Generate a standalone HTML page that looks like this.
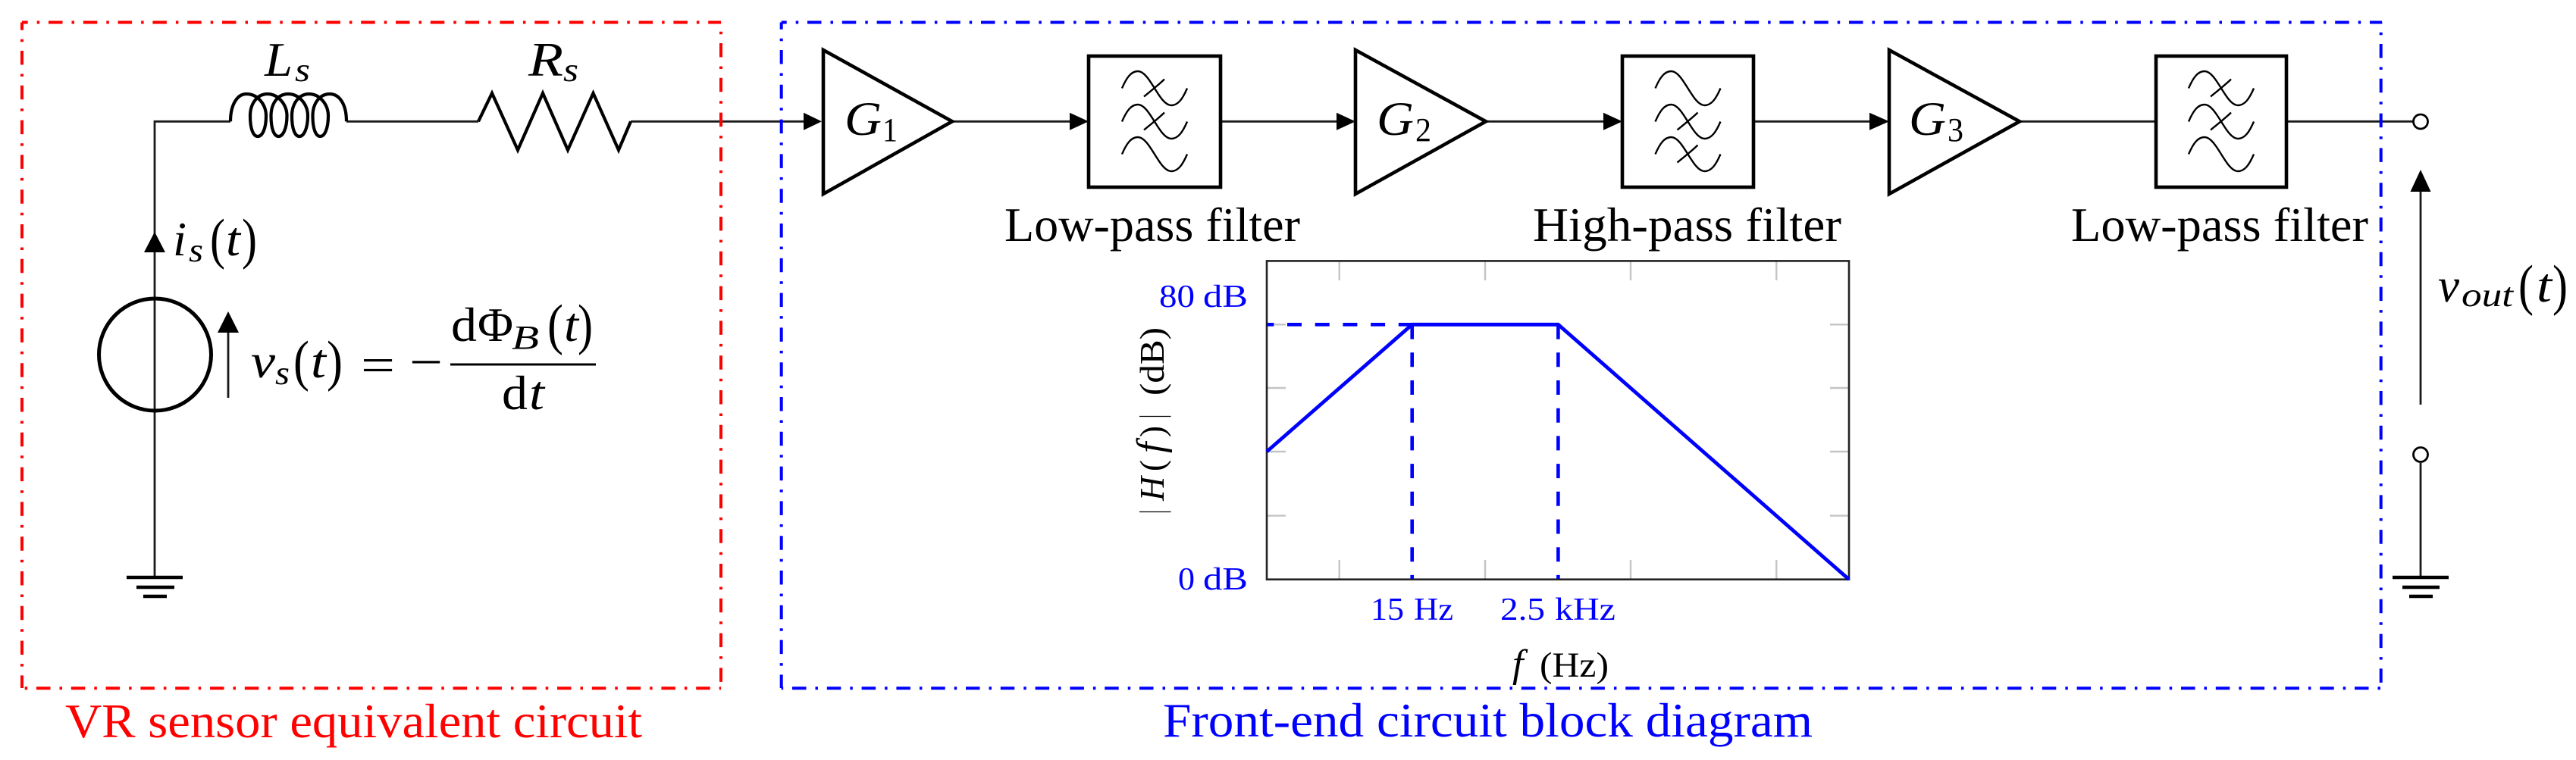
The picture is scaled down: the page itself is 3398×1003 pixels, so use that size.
<!DOCTYPE html>
<html><head><meta charset="utf-8"><title>VR sensor and front-end circuit</title>
<style>
html,body{margin:0;padding:0;background:#fff}
svg{display:block}
text{font-family:"Liberation Serif",serif;fill:#000}
.i{font-style:italic}
.m{font-size:64px}
.q{font-size:74px}
.s{font-size:44px}
.p{font-size:42px}
.b{fill:#00f}
.r{fill:#f00}
</style></head>
<body>
<svg xmlns="http://www.w3.org/2000/svg" width="3398" height="1003" viewBox="0 0 3398 1003">
<rect width="3398" height="1003" fill="#fff"/>
<defs>
<path id="w" d="M-43 0C-37 -14 -31 -22.5 -22 -22.5C-6 -22.5 6 22.5 22 22.5C31 22.5 37 14 43 0" fill="none" stroke="#000" stroke-width="2.4"/>
<path id="x" d="M13 -12C6 -5 -8 6 -14 11" fill="none" stroke="#000" stroke-width="2.4"/>
</defs>

<!-- wires -->
<g fill="none" stroke="#1a1a1a" stroke-width="2.8">
<path d="M304 160.3H204V762"/>
<path d="M457 160.3H631"/>
<path d="M832 160.3H1062"/>
<path d="M1256 160.3H1412"/>
<path d="M1610 160.3H1764"/>
<path d="M1960 160.3H2116"/>
<path d="M2313 160.3H2467"/>
<path d="M2664 160.3H2844"/>
<path d="M3016 160.3H3183"/>
<path d="M301 439V525"/>
<path d="M3193 253V534"/>
<path d="M3193 611V762"/>
</g>

<!-- inductor -->
<path fill="none" stroke="#000" stroke-width="4.2" d="M304 160.3C304 138 313 124 325 124C340 124 351 138 351 153C351 170 346 180 340 180C334 180 330 170 330 153C330 136 340 124 352.7 124C367 124 378.5 138 378.5 153C378.5 170 373 180 367.5 180C361.5 180 357.5 170 357.5 153C357.5 136 367 124 380 124C395 124 406 138 406 153C406 170 400.5 180 395 180C389 180 385 170 385 153C385 136 395 124 407.5 124C422 124 433 138 433 153C433 170 428 180 422.5 180C416.5 180 412.5 170 412.5 153C412.5 136 422 124 435 124C448 124 457 138 457 160.3"/>
<!-- resistor -->
<polyline fill="none" stroke="#000" stroke-width="4.2" stroke-linejoin="miter" points="631,160.3 649,123 683,198 716,123 749,198 782.5,123 816,198 832,160.3"/>

<!-- source -->
<circle cx="204.5" cy="468" r="74" fill="none" stroke="#000" stroke-width="5"/>

<!-- arrows -->
<g fill="#000">
<polygon points="204,306 190,333 218,333"/>
<polygon points="301,411 287,439 315,439"/>
<polygon points="3193,224 3179.5,253 3206.5,253"/>
<polygon points="1084,160.3 1060,148.8 1060,171.8"/>
<polygon points="1436,160.3 1411,148.8 1411,171.8"/>
<polygon points="1788,160.3 1763,148.8 1763,171.8"/>
<polygon points="2140,160.3 2115,148.8 2115,171.8"/>
<polygon points="2492,160.3 2466,148.8 2466,171.8"/>
</g>

<!-- grounds -->
<g stroke="#000" stroke-width="4.5" fill="none">
<path d="M167 762H241M180 775H230M189 787H220"/>
<path d="M3156 762H3230M3169 775H3218M3178 787H3209"/>
</g>

<!-- terminals -->
<g fill="#fff" stroke="#000" stroke-width="2.8">
<circle cx="3193" cy="160.5" r="9.5"/>
<circle cx="3193" cy="600" r="9.5"/>
</g>

<!-- amplifiers -->
<g fill="#fff" stroke="#000" stroke-width="4.6" stroke-linejoin="miter">
<polygon points="1086,66 1256,160.3 1086,256"/>
<polygon points="1788,66 1960,160.3 1788,256"/>
<polygon points="2492,66 2664,160.3 2492,256"/>
<rect x="1436" y="74" width="174" height="173"/>
<rect x="2140" y="74" width="173" height="173"/>
<rect x="2844" y="74" width="172" height="173"/>
</g>

<!-- filter icons -->
<use href="#w" x="1523" y="116.5"/><use href="#x" x="1523" y="116.5"/>
<use href="#w" x="1523" y="160.5"/><use href="#x" x="1523" y="160.5"/>
<use href="#w" x="1523" y="203.5"/>
<use href="#w" x="2226.5" y="116.5"/>
<use href="#w" x="2226.5" y="160.5"/><use href="#x" x="2226.5" y="160.5"/>
<use href="#w" x="2226.5" y="203.5"/><use href="#x" x="2226.5" y="203.5"/>
<use href="#w" x="2930" y="116.5"/><use href="#x" x="2930" y="116.5"/>
<use href="#w" x="2930" y="160.5"/><use href="#x" x="2930" y="160.5"/>
<use href="#w" x="2930" y="203.5"/>

<!-- plot -->
<g stroke="#c4c4c4" stroke-width="2.4" fill="none">
<path d="M1766.7 344V370M1959 344V370M2151 344V370M2343.3 344V370"/>
<path d="M1766.7 765V739M1959 765V739M2151 765V739M2343.3 765V739"/>
<path d="M1671 428.3H1696M1671 512H1696M1671 596H1696M1671 680.6H1696"/>
<path d="M2439 428.3H2414M2439 512H2414M2439 596H2414M2439 680.6H2414"/>
</g>
<rect x="1671" y="344.4" width="768" height="420.3" fill="none" stroke="#222" stroke-width="2.6"/>
<g fill="none" stroke="#00f">
<path d="M1671 428.3H1862.7" stroke-width="4.6" stroke-dasharray="19 17.7" stroke-dashoffset="-27"/>
<path d="M1862.7 428.3V764" stroke-width="4.6" stroke-dasharray="19 17.7" stroke-dashoffset="-37"/>
<path d="M2055.4 428.3V764" stroke-width="4.6" stroke-dasharray="19 17.7" stroke-dashoffset="-37"/>
<path d="M1671 596L1862.7 428.3H2055.4L2439 764.7" stroke-width="4.8"/>
</g>

<!-- dash-dot boxes -->
<g fill="none" stroke-width="4" stroke-dasharray="18.5 12 3.5 11.8">
<g stroke="#f00">
<path d="M29 29.5H951" stroke-dashoffset="-35"/>
<path d="M29 29.5V908" stroke-dashoffset="-37.5"/>
<path d="M29 908.3H951" stroke-dashoffset="-19"/>
<path d="M951 29.5V908" stroke-dashoffset="-27.5"/>
</g>
<g stroke="#00f">
<path d="M1030.7 29.5H3142" stroke-dashoffset="-34.3"/>
<path d="M1030.7 29.5V908" stroke-dashoffset="-36.5"/>
<path d="M1030.7 908.3H3142" stroke-dashoffset="-14.3"/>
<path d="M3140.7 29.5V908" stroke-dashoffset="-28.5"/>
</g>
</g>

<!-- circuit labels -->
<text class="m i" x="349" y="100" textLength="37" lengthAdjust="spacingAndGlyphs">L</text>
<text class="s i" x="389" y="107" textLength="20" lengthAdjust="spacingAndGlyphs">s</text>
<text class="m i" x="697" y="100" textLength="46" lengthAdjust="spacingAndGlyphs">R</text>
<text class="s i" x="743" y="107" textLength="20" lengthAdjust="spacingAndGlyphs">s</text>

<text class="m i" x="228" y="337" textLength="18" lengthAdjust="spacingAndGlyphs">i</text>
<text class="s i" x="249" y="345" textLength="19" lengthAdjust="spacingAndGlyphs">s</text>
<text class="q" x="277" y="340" textLength="20" lengthAdjust="spacingAndGlyphs">(</text>
<text class="m i" x="298" y="337" textLength="19" lengthAdjust="spacingAndGlyphs">t</text>
<text class="q" x="319" y="340" textLength="20" lengthAdjust="spacingAndGlyphs">)</text>

<text class="m i" x="331" y="498" textLength="32" lengthAdjust="spacingAndGlyphs">v</text>
<text class="s i" x="363" y="507" textLength="19" lengthAdjust="spacingAndGlyphs">s</text>
<text class="q" x="387" y="501" textLength="21" lengthAdjust="spacingAndGlyphs">(</text>
<text class="m i" x="410" y="498" textLength="20" lengthAdjust="spacingAndGlyphs">t</text>
<text class="q" x="431" y="501" textLength="21" lengthAdjust="spacingAndGlyphs">)</text>
<text class="m" x="476" y="503" textLength="45" lengthAdjust="spacingAndGlyphs">=</text>
<text class="m" x="540" y="499" textLength="44" lengthAdjust="spacingAndGlyphs">−</text>
<rect x="594" y="479.5" width="192" height="3" fill="#000"/>
<text class="m" x="595" y="450" textLength="34" lengthAdjust="spacingAndGlyphs">d</text>
<text class="m" x="630" y="450" textLength="47" lengthAdjust="spacingAndGlyphs">Φ</text>
<text class="s i" x="675" y="460" textLength="36" lengthAdjust="spacingAndGlyphs">B</text>
<text class="q" x="722" y="453" textLength="21" lengthAdjust="spacingAndGlyphs">(</text>
<text class="m i" x="744" y="450" textLength="19" lengthAdjust="spacingAndGlyphs">t</text>
<text class="q" x="762" y="453" textLength="20" lengthAdjust="spacingAndGlyphs">)</text>
<text class="m" x="662" y="540" textLength="34" lengthAdjust="spacingAndGlyphs">d</text>
<text class="m i" x="698" y="540" textLength="20" lengthAdjust="spacingAndGlyphs">t</text>

<text class="m i" x="1114" y="178" textLength="49" lengthAdjust="spacingAndGlyphs">G</text>
<text class="s" x="1164" y="186" textLength="20" lengthAdjust="spacingAndGlyphs">1</text>
<text class="m i" x="1816" y="178" textLength="49" lengthAdjust="spacingAndGlyphs">G</text>
<text class="s" x="1867" y="186" textLength="21" lengthAdjust="spacingAndGlyphs">2</text>
<text class="m i" x="2518" y="178" textLength="49" lengthAdjust="spacingAndGlyphs">G</text>
<text class="s" x="2569" y="186" textLength="21" lengthAdjust="spacingAndGlyphs">3</text>

<text class="m" x="1325" y="318" textLength="390" lengthAdjust="spacingAndGlyphs">Low-pass filter</text>
<text class="m" x="2022" y="318" textLength="407" lengthAdjust="spacingAndGlyphs">High-pass filter</text>
<text class="m" x="2732" y="318" textLength="392" lengthAdjust="spacingAndGlyphs">Low-pass filter</text>

<text class="m i" x="3216" y="398" textLength="28" lengthAdjust="spacingAndGlyphs">v</text>
<text class="s i" x="3247" y="404" textLength="68" lengthAdjust="spacingAndGlyphs">out</text>
<text class="q" x="3322" y="401" textLength="20" lengthAdjust="spacingAndGlyphs">(</text>
<text class="m i" x="3346" y="398" textLength="20" lengthAdjust="spacingAndGlyphs">t</text>
<text class="q" x="3367" y="401" textLength="20" lengthAdjust="spacingAndGlyphs">)</text>

<!-- plot labels -->
<text class="p b" x="1529" y="405" textLength="47" lengthAdjust="spacingAndGlyphs">80</text>
<text class="p b" x="1587" y="405" textLength="59" lengthAdjust="spacingAndGlyphs">dB</text>
<text class="p b" x="1554" y="778" textLength="22" lengthAdjust="spacingAndGlyphs">0</text>
<text class="p b" x="1587" y="778" textLength="59" lengthAdjust="spacingAndGlyphs">dB</text>
<text class="p b" x="1808" y="818" textLength="44" lengthAdjust="spacingAndGlyphs">15</text>
<text class="p b" x="1865" y="818" textLength="52" lengthAdjust="spacingAndGlyphs">Hz</text>
<text class="p b" x="1979" y="818" textLength="59" lengthAdjust="spacingAndGlyphs">2.5</text>
<text class="p b" x="2051" y="818" textLength="80" lengthAdjust="spacingAndGlyphs">kHz</text>
<text class="i" style="font-size:52px" x="1995" y="893">f</text>
<text style="font-size:47px" x="2031" y="893" textLength="91" lengthAdjust="spacingAndGlyphs">(Hz)</text>

<g transform="translate(1535,0) rotate(-90)">
<text style="font-size:46px" x="-678" y="0" textLength="5" lengthAdjust="spacingAndGlyphs">|</text>
<text class="i" style="font-size:46px" x="-661" y="0" textLength="32" lengthAdjust="spacingAndGlyphs">H</text>
<text style="font-size:46px" x="-622" y="0" textLength="15" lengthAdjust="spacingAndGlyphs">(</text>
<text class="i" style="font-size:52px" x="-598" y="0">f</text>
<text style="font-size:46px" x="-577" y="0" textLength="15" lengthAdjust="spacingAndGlyphs">)</text>
<text style="font-size:46px" x="-552" y="0" textLength="5" lengthAdjust="spacingAndGlyphs">|</text>
<text style="font-size:46px" x="-522" y="0" textLength="90" lengthAdjust="spacingAndGlyphs">(dB)</text>
</g>

<!-- captions -->
<text class="m r" x="86" y="973" textLength="761" lengthAdjust="spacingAndGlyphs">VR sensor equivalent circuit</text>
<text class="m b" x="1534" y="972" textLength="857" lengthAdjust="spacingAndGlyphs">Front-end circuit block diagram</text>
</svg>
</body></html>
